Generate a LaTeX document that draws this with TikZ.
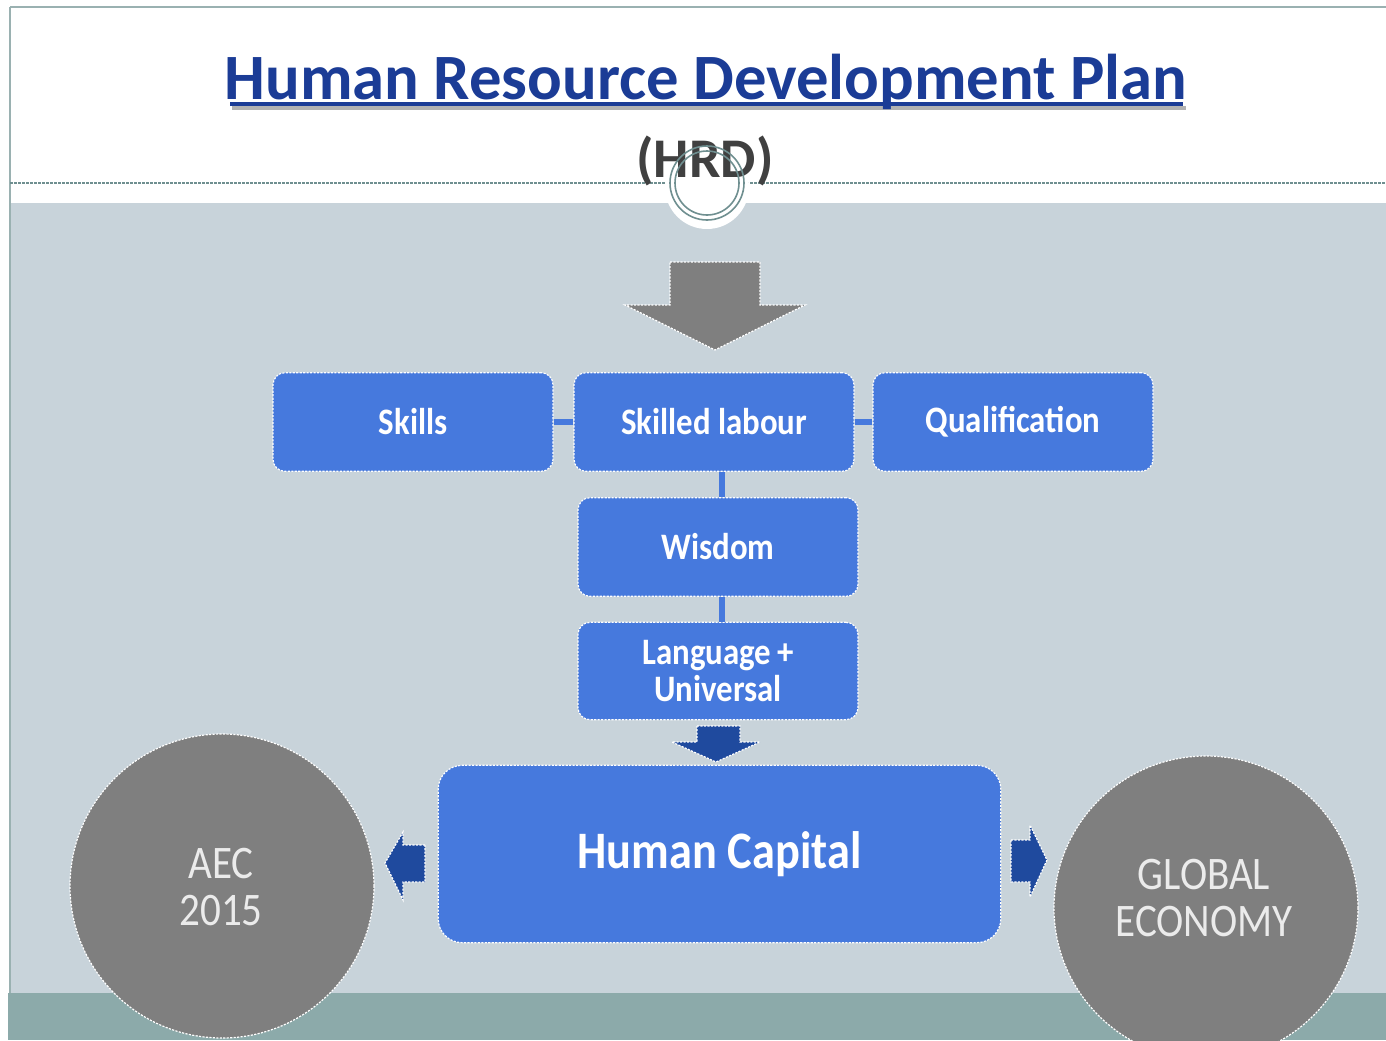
\documentclass[tikz,border=0pt]{standalone}
\usepackage{fontspec}
\setmainfont{Carlito}[FakeStretch=0.88]
\newfontfamily\widefont{Carlito}
\usetikzlibrary{calc}
\definecolor{titleblue}{HTML}{1B3C96}
\definecolor{boxblue}{HTML}{4679DD}
\definecolor{darkblue}{HTML}{1F4A9E}
\definecolor{bgc}{HTML}{C8D3DA}
\definecolor{band}{HTML}{8CAAAA}
\definecolor{greyc}{HTML}{7F7F7F}
\definecolor{ringc}{HTML}{6F8F90}
\definecolor{hrdc}{HTML}{404040}
\tikzset{
  wdash/.style={draw=white, line width=0.9pt, dash pattern=on 1.6pt off 1pt},
  blk/.style={wdash, fill=boxblue, rounded corners=9pt, minimum width=210pt,
    minimum height=74pt, inner sep=0pt, text=white, align=center,
    font=\bfseries\fontsize{28}{28}\selectfont},
  link/.style={draw=boxblue, line width=4.5pt},
  globe/.style={circle, wdash, fill=greyc, minimum size=228pt, inner sep=0pt},
  globetext/.style={text=white!92!black, align=center, font=\fontsize{35}{35}\selectfont},
  titlefont/.style={font=\widefont\bfseries\fontsize{48.5}{50}\selectfont},
  blockarrow/.style={wdash, fill=#1}
}
\begin{document}
\begin{tikzpicture}[x=0.75pt,y=-0.75pt]
\useasboundingbox (0,0) rectangle (1386,1040);
% backgrounds
\fill[white] (0,0) rectangle (1386,1040);
\fill[bgc] (10,203) rectangle (1386,1040);
\fill[band] (8,993) rectangle (1386,1040);
\draw[ringc!70, line width=1pt] (10,7) -- (1386,7);
\draw[ringc!70, line width=1pt] (10,7) -- (10,993);
\draw[ringc, line width=1pt, dash pattern=on 2pt off 1pt] (10,183) -- (1386,183);
% title with underline (and soft shadow under the underline)
\fill[black!30] (232,106) rectangle (1186,110);
\node[titlefont, text=titleblue] (title) at (706,82) {Human Resource Development Plan};
\fill[titleblue] (230,102) rectangle (1183,106);
% circle ornament
\fill[white] (707,187) circle[radius=42];
\node[text=hrdc, font=\widefont\bfseries\fontsize{42}{42}\selectfont] (hrd) at (705,161) {(HRD)};
\draw[ringc, line width=1.2pt] (707,183) circle[radius=37];
\draw[ringc, line width=1.2pt] (707,183) circle[radius=32];
% big grey arrow
\draw[blockarrow=greyc] (670,262) -- (760,262) -- (760,305) -- (805,305) -- (715,350) -- (625,305) -- (670,305) -- cycle;
% boxes
\node[blk] (skills) at (413,422) {Skills};
\node[blk] (labour) at (714,422) {Skilled labour};
\node[blk] (qual) at (1013,422) {Qualification};
\node[blk] (wisdom) at (718,547) {Wisdom};
\node[blk, minimum height=73pt] (lang) at (718,671) {Language\,+\\Universal};
\node[blk, rounded corners=18pt, minimum width=422pt, minimum height=133pt,
      font=\bfseries\fontsize{39.5}{40}\selectfont] (hc) at (719.5,854) {Human Capital};
% connectors
\draw[link] (skills.east) -- (labour.west);
\draw[link] (labour.east) -- (qual.west);
\draw[link] (labour.south -| 722,0) -- (wisdom.north -| 722,0);
\draw[link] (wisdom.south -| 722,0) -- (lang.north -| 722,0);
% blue arrows
\draw[blockarrow=darkblue] (697,726) -- (740,726) -- (740,742) -- (760,742) -- (716,762) -- (672,742) -- (697,742) -- cycle;
\draw[blockarrow=darkblue] (425,845) -- (403,845) -- (403,832) -- (385,863) -- (403,900) -- (403,882) -- (425,882) -- cycle;
\draw[blockarrow=darkblue] (1011,840) -- (1030,840) -- (1030,825) -- (1047,860) -- (1030,897) -- (1030,882) -- (1011,882) -- cycle;
% circles
\node[globe] (aec) at (222,886) {};
\node[globetext] (aectext) at (221,887) {AEC\\2015};
\node[globe] (glob) at (1206,908) {};
\node[globetext] (globtext) at (1204,898) {GLOBAL\\ECONOMY};
\end{tikzpicture}
\end{document}
